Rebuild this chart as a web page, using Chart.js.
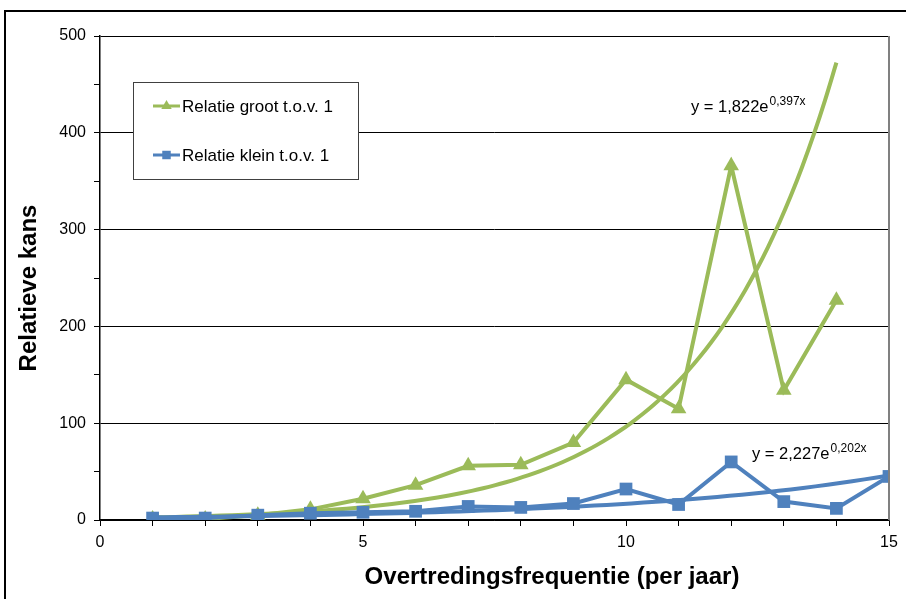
<!DOCTYPE html>
<html>
<head>
<meta charset="utf-8">
<script src="https://cdn.jsdelivr.net/npm/chart.js@4"></script>
<style>
  html, body { margin: 0; padding: 0; background: #fff; }
  #wrap { position: relative; width: 906px; height: 599px; }
</style>
</head>
<body>
<div id="wrap"><canvas id="c" width="906" height="599"></canvas></div>
<script>
// Overtredingsfrequentie (per jaar) vs. relatieve kans
const frequencies = [1, 2, 3, 4, 5, 6, 7, 8, 9, 10, 11, 12, 13, 14, 15];
const relatieGroot = [1, 1, 5, 11, 22, 36, 56, 57, 80, 145, 115, 366, 134, 227];
const relatieKlein = [2, 2, 5, 7, 8, 9, 14, 13, 17, 32, 16, 60, 19, 12, 45];

// exponential trendlines: y = a * e^(b x)
const trendGroot = { a: 1.822, b: 0.397, from: 1, to: 14, label: ['y = 1,822e', '0,397x'] };
const trendKlein = { a: 2.227, b: 0.202, from: 1, to: 15, label: ['y = 2,227e', '0,202x'] };

const yTicks = [0, 100, 200, 300, 400, 500];
const xTicks = [0, 5, 10, 15];
const xTitle = 'Overtredingsfrequentie (per jaar)';
const yTitle = 'Relatieve kans';

const GREEN = '#9BBB59';
const BLUE = '#4F81BD';
const FONT = '"Liberation Sans", Arial, sans-serif';

function toPoints(xs, ys) {
  return ys.map((y, i) => ({ x: xs[i], y: y }));
}
function trendPoints(t) {
  const pts = [];
  const n = 60;
  for (let i = 0; i <= n; i++) {
    const x = t.from + (t.to - t.from) * i / n;
    pts.push({ x: x, y: t.a * Math.exp(t.b * x) });
  }
  return pts;
}

// outer frame, plot border, axis titles, legend box and trendline equations
const decorations = {
  id: 'decorations',
  beforeDraw(chart) {
    const ctx = chart.ctx;
    ctx.save();
    ctx.strokeStyle = '#000';
    ctx.lineWidth = 2;
    ctx.beginPath();
    ctx.moveTo(5, 599);
    ctx.lineTo(5, 11);
    ctx.lineTo(906, 11);
    ctx.stroke();
    ctx.restore();
  },
  afterDraw(chart) {
    const ctx = chart.ctx;
    const a = chart.chartArea;
    ctx.save();
    // right border of the plot area
    ctx.strokeStyle = '#808080';
    ctx.lineWidth = 2;
    ctx.beginPath();
    ctx.moveTo(a.right, a.top);
    ctx.lineTo(a.right, a.bottom);
    ctx.stroke();

    // axis titles
    ctx.fillStyle = '#000';
    ctx.font = 'bold 24px ' + FONT;
    ctx.textAlign = 'center';
    ctx.textBaseline = 'middle';
    ctx.fillText(xTitle, 552, 577);
    ctx.save();
    ctx.translate(29, 288);
    ctx.rotate(-Math.PI / 2);
    ctx.fillText(yTitle, 0, 0);
    ctx.restore();

    // legend
    const lx = 133, ly = 82, lw = 225, lh = 97;
    ctx.fillStyle = '#fff';
    ctx.fillRect(lx, ly, lw, lh);
    ctx.strokeStyle = '#404040';
    ctx.lineWidth = 1;
    ctx.strokeRect(lx + 0.5, ly + 0.5, lw, lh);
    const entries = [
      { text: 'Relatie groot t.o.v. 1', color: GREEN, style: 'triangle', y: 106 },
      { text: 'Relatie klein t.o.v. 1', color: BLUE, style: 'rect', y: 155 }
    ];
    ctx.font = '17px ' + FONT;
    ctx.textBaseline = 'middle';
    ctx.textAlign = 'left';
    entries.forEach(e => {
      ctx.strokeStyle = e.color;
      ctx.lineWidth = 3;
      ctx.beginPath();
      ctx.moveTo(153, e.y);
      ctx.lineTo(180, e.y);
      ctx.stroke();
      ctx.fillStyle = e.color;
      Chart.helpers.drawPoint(ctx, { pointStyle: e.style, radius: 6, borderWidth: 0 }, 166.5, e.y);
      ctx.fillStyle = '#000';
      ctx.fillText(e.text, 182, e.y + 1);
    });

    // trendline equations
    const eq = (parts, x, y) => {
      ctx.fillStyle = '#000';
      ctx.textBaseline = 'alphabetic';
      ctx.font = '16.5px ' + FONT;
      ctx.fillText(parts[0], x, y);
      const w = ctx.measureText(parts[0]).width;
      ctx.font = '12px ' + FONT;
      ctx.fillText(parts[1], x + w + 1, y - 7);
    };
    eq(trendGroot.label, 691, 112);
    eq(trendKlein.label, 752, 459);
    ctx.restore();
  }
};

new Chart(document.getElementById('c'), {
  type: 'scatter',
  data: {
    datasets: [
      {
        label: 'Relatie groot t.o.v. 1',
        data: toPoints(frequencies, relatieGroot),
        showLine: true,
        borderColor: GREEN,
        backgroundColor: GREEN,
        borderWidth: 4,
        pointStyle: 'triangle',
        pointRadius: 9,
        pointBorderWidth: 0,
        order: 2
      },
      {
        label: 'Trend groot',
        data: trendPoints(trendGroot),
        showLine: true,
        borderColor: GREEN,
        borderWidth: 4,
        pointRadius: 0,
        cubicInterpolationMode: 'monotone',
        order: 3
      },
      {
        label: 'Relatie klein t.o.v. 1',
        data: toPoints(frequencies, relatieKlein),
        showLine: true,
        borderColor: BLUE,
        backgroundColor: BLUE,
        borderWidth: 4,
        pointStyle: 'rect',
        pointRadius: 9,
        pointBorderWidth: 0,
        order: 0
      },
      {
        label: 'Trend klein',
        data: trendPoints(trendKlein),
        showLine: true,
        borderColor: BLUE,
        borderWidth: 4,
        pointRadius: 0,
        order: 1
      }
    ]
  },
  options: {
    responsive: false,
    animation: false,
    layout: { padding: { left: 0, right: 17, top: 36, bottom: 0 } },
    plugins: { legend: { display: false }, tooltip: { enabled: false } },
    scales: {
      x: {
        type: 'linear',
        min: 0, max: 15,
        afterFit(s) { s.height = 79; },
        afterBuildTicks(s) { s.ticks = [0].concat(frequencies).map(v => ({ value: v })); },
        border: { color: '#000', width: 1.5 },
        grid: { drawOnChartArea: false, tickLength: 6, tickColor: '#000', lineWidth: 1 },
        ticks: {
          color: '#000',
          font: { family: FONT, size: 16 },
          padding: 7,
          maxRotation: 0,
          autoSkip: false,
          callback: v => xTicks.includes(v) ? String(v) : ''
        },
        title: { display: false }
      },
      y: {
        type: 'linear',
        min: 0, max: 500,
        afterFit(s) { s.width = 100; },
        border: { color: '#000', width: 1.5 },
        grid: {
          tickLength: 6,
          color: c => (c.tick && c.tick.value % 100 === 0) ? '#000' : 'rgba(0,0,0,0)',
          tickColor: '#000',
          lineWidth: 1
        },
        ticks: {
          stepSize: 50,
          color: '#000',
          font: { family: FONT, size: 16 },
          padding: 8,
          callback: v => yTicks.includes(v) ? String(v) : ''
        },
        title: { display: false }
      }
    }
  },
  plugins: [decorations]
});
</script>
</body>
</html>
